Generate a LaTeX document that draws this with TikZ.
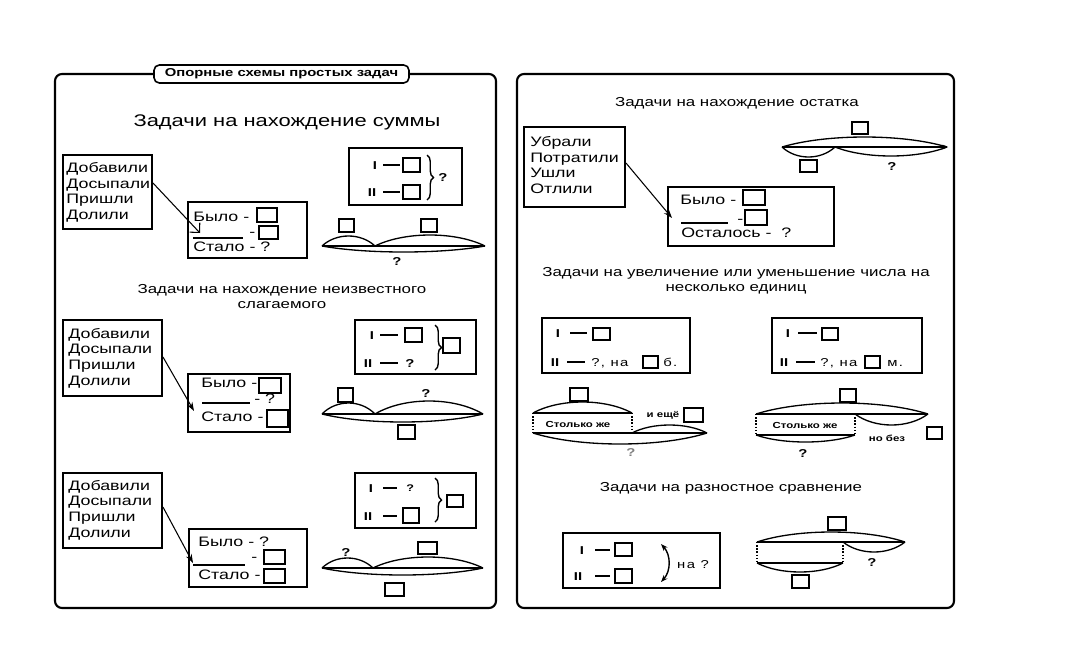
\documentclass[tikz,border=0pt]{standalone}
\usepackage{fontspec}
\setmainfont{Liberation Sans}[FakeStretch=1.3]
\usetikzlibrary{arrows.meta,decorations.pathreplacing,fit}
\newcommand\sqbox[5]{\node[sq, fit={(#2,#3) (#4,#5)}] (#1) {};}
\newcommand\lensarc[4]{\draw[arcl] (#1,#3) .. controls ({#1+(#2-#1)*0.27},{#3-1.333*(#4)}) and ({#2-(#2-#1)*0.27},{#3-1.333*(#4)}) .. (#2,#3);}
\newcommand\bodyf{\fontsize{7.8}{8.9}\selectfont}
\newcommand\headf{\fontsize{7.4}{8.5}\selectfont}
\newcommand\romf{\fontsize{6.5}{7}\selectfont\bfseries}
\newcommand\smallbf{\fontsize{5}{6}\selectfont\bfseries}
\begin{document}
\begin{tikzpicture}[x=0.02cm,y=-0.02cm,
 panel/.style={draw, line width=1.2pt, rounded corners=4pt, inner sep=0pt},
 bx/.style={draw, line width=1.1pt, inner sep=0pt},
 sq/.style={draw, line width=0.9pt, inner sep=0pt},
 arcl/.style={line width=0.75pt},
 ln/.style={line width=0.75pt},
 dsh/.style={line width=1pt},
 dots/.style={densely dotted, line width=0.8pt},
 lbl/.style={inner sep=0pt, anchor=west, text height=5.6pt, text depth=0pt, font=\bodyf},
 words/.style={inner sep=0pt, anchor=west, align=left, font=\bodyf},
 hd/.style={inner sep=0pt, align=center, font=\headf},
 rom/.style={inner sep=0pt, text height=4.7pt, text depth=0pt, font=\romf},
 spc/.style={inner sep=0pt, anchor=west, text height=4.7pt, text depth=0pt, font=\romf\mdseries\addfontfeature{LetterSpace=12}},
 sb/.style={inner sep=0pt, text height=3.6pt, text depth=0pt, font=\smallbf},
 arr/.style={-{Stealth[length=5pt,width=3.5pt]}, line width=0.6pt},
 brc/.style={decorate, decoration={brace, amplitude=0.13cm}, line width=0.8pt},
]
\path[fill=white] (0,0) rectangle (1081,646);
% panels
\node[panel, fit={(55,74) (496,608)}] (lp) {};
\node[panel, fit={(517,74) (954,608)}] (rp) {};
\node[draw, line width=0.9pt, rounded corners=3pt, fill=white, minimum width=5.1cm, minimum height=0.36cm, inner sep=0pt, font=\fontsize{6.5}{7}\selectfont\bfseries] (title) at (281.5,74) {Опорные схемы простых задач};

% ===== Left section 1
\node[hd, font=\fontsize{9.6}{11}\selectfont] (h1) at (287,122) {Задачи на нахождение суммы};
\node[bx, fit={(63,155) (152,229)}] (v1) {};
\node[words] (v1t) at (66,192.5) {Добавили\\Досыпали\\Пришли\\Долили};
\node[bx, fit={(188,202) (307,258)}] (b1) {};
\node[lbl] (b1a) at (193,217) {Было -};
\sqbox{s1a}{257}{208}{277}{222}
\coordinate (u1a) at (193,238); \coordinate (u1b) at (243,238);
\draw[ln] (u1a) -- (u1b);
\node[lbl] (b1m) at (249,232) {-};
\sqbox{s1b}{259}{226}{278}{239}
\node[lbl] (b1c) at (193,247) {Стало - ?};
\coordinate (a1) at (200,233);
\draw[arr, -{Straight Barb[length=4pt]}] (v1.east |- 0,183) -- (a1);
\node[bx, fit={(349,148) (462,205)}] (c1) {};
\node[rom] (c1i) at (375,165) {I};
\draw[dsh] (383,165) -- (400,165);
\sqbox{s1c}{403}{158}{420}{172}
\node[rom] (c1ii) at (372,192) {II};
\draw[dsh] (383,192) -- (400,192);
\sqbox{s1d}{403}{185}{420}{199}
\draw[brc] (427,155) -- (427,200);
\node[rom] (c1q) at (443,177) {?};
\sqbox{s1e}{339}{219}{354}{232}
\sqbox{s1f}{421}{219}{437}{232}
\draw[arcl] (322,246) -- (485,246);
\lensarc{322}{375}{246}{10}
\lensarc{375}{485}{246}{11}
\lensarc{322}{485}{246}{-6}
\node[rom] (d1q) at (397,261) {?};

% ===== Left section 2
\node[hd] (h2) at (282,296.5) {Задачи на нахождение неизвестного\\слагаемого};
\node[bx, fit={(63,320) (162,396)}] (v2) {};
\node[words] (v2t) at (68,358) {Добавили\\Досыпали\\Пришли\\Долили};
\node[bx, fit={(188,374) (290,432)}] (b2) {};
\node[lbl] (b2a) at (201,383) {Было -};
\sqbox{s2a}{259}{378}{281}{393}
\draw[ln] (202,403) -- (250,403);
\node[lbl] (b2m) at (254,399) {- ?};
\node[lbl] (b2c) at (201,417) {Стало -};
\sqbox{s2b}{267}{410}{288}{427}
\coordinate (a2) at (194,411);
\draw[arr] (v2.east |- 0,357) -- (a2);
\node[bx, fit={(355,320) (476,374)}] (c2) {};
\node[rom] (c2i) at (372,335) {I};
\draw[dsh] (380,335) -- (398,335);
\sqbox{s2c}{405}{328}{422}{342}
\node[rom] (c2ii) at (368,363) {II};
\draw[dsh] (380,363) -- (398,363);
\node[rom, anchor=west] (c2q) at (405,363) {?};
\draw[brc] (435,325) -- (435,370);
\sqbox{s2d}{443}{338}{460}{353}
\sqbox{s2e}{338}{388}{353}{402}
\node[rom] (d2q) at (426,393) {?};
\draw[arcl] (322,414) -- (483,414);
\lensarc{322}{375}{414}{11}
\lensarc{375}{483}{414}{13}
\lensarc{322}{483}{414}{-8}
\sqbox{s2f}{398}{425}{415}{439}

% ===== Left section 3
\node[bx, fit={(63,473) (162,548)}] (v3) {};
\node[words] (v3t) at (68,510) {Добавили\\Досыпали\\Пришли\\Долили};
\node[bx, fit={(189,529) (307,587)}] (b3) {};
\node[lbl] (b3a) at (198,542) {Было - ?};
\draw[ln] (193,565) -- (245,565);
\node[lbl] (b3m) at (251,557) {-};
\sqbox{s3a}{264}{550}{285}{564}
\node[lbl] (b3c) at (198,575) {Стало -};
\sqbox{s3b}{264}{569}{285}{583}
\coordinate (a3) at (193,563);
\draw[arr] (v3.east |- 0,507) -- (a3);
\node[bx, fit={(355,473) (476,528)}] (c3) {};
\node[rom] (c3i) at (371,488) {I};
\draw[dsh] (383,488) -- (397,488);
\node[rom, anchor=west, font=\fontsize{5.5}{6}\selectfont\bfseries] (c3q) at (406,487) {?};
\node[rom] (c3ii) at (368,516) {II};
\draw[dsh] (383,516) -- (397,516);
\sqbox{s3c}{403}{508}{419}{523}
\draw[brc] (435,478) -- (435,522);
\sqbox{s3d}{447}{495}{463}{507}
\node[rom] (d3q) at (346,552) {?};
\sqbox{s3e}{418}{542}{437}{554}
\draw[arcl] (322,568) -- (483,568);
\lensarc{322}{373}{568}{10}
\lensarc{373}{483}{568}{11}
\lensarc{322}{483}{568}{-7}
\sqbox{s3f}{385}{583}{404}{596}

% ===== Right section 1
\node[hd] (h4) at (737,103) {Задачи на нахождение остатка};
\node[bx, fit={(524,127) (625,207)}] (v4) {};
\node[words] (v4t) at (530,165) {Убрали\\Потратили\\Ушли\\Отлили};
\node[bx, fit={(668,187) (834,246)}] (b4) {};
\node[lbl] (b4a) at (680,200) {Было -};
\sqbox{s4a}{743}{190}{765}{205}
\draw[ln] (681,223) -- (728,223);
\node[lbl] (b4m) at (737,219) {-};
\sqbox{s4b}{745}{210}{767}{225}
\node[lbl] (b4c) at (681,233) {Осталось -~~?};
\coordinate (a4) at (672,218);
\draw[arr] (v4.east |- 0,163) -- (a4);
\sqbox{s4c}{852}{122}{868}{134}
\draw[arcl, -{Stealth[length=3pt,width=2.5pt]}] (782,147) -- (948,147);
\lensarc{782}{947}{147}{10}
\lensarc{782}{835}{147}{-10}
\lensarc{835}{947}{147}{-9}
\sqbox{s4d}{800}{160}{817}{172}
\node[rom] (d4q) at (892,166) {?};

% ===== Right section 2
\node[hd] (h5) at (736,280.5) {Задачи на увеличение или уменьшение числа на\\несколько единиц};
\node[bx, fit={(542,318) (690,373)}] (ca) {};
\node[rom] (cai) at (558,333) {I};
\draw[dsh] (570,333) -- (587,333);
\sqbox{sa1}{593}{328}{610}{340}
\node[rom] (caii) at (555,362) {II};
\draw[dsh] (567,362) -- (585,362);
\node[spc] (caq) at (591,362) {?, на};
\sqbox{sa2}{643}{356}{658}{368}
\node[spc] (cab) at (663,362) {б.};
\node[bx, fit={(772,318) (922,373)}] (cb) {};
\node[rom] (cbi) at (788,333) {I};
\draw[dsh] (798,333) -- (817,333);
\sqbox{sb1}{822}{328}{838}{340}
\node[rom] (cbii) at (784,362) {II};
\draw[dsh] (796,362) -- (815,362);
\node[spc] (cbq) at (820,362) {?, на};
\sqbox{sb2}{865}{356}{880}{368}
\node[spc] (cbm) at (887,362) {м.};
% diagram a
\sqbox{sa3}{570}{388}{588}{401}
\lensarc{533}{632}{413}{11}
\draw[arcl] (533,413) -- (632,413);
\draw[dots] (533,413) -- (533,433);
\draw[dots] (632,413) -- (632,433);
\draw[arcl] (533,433) -- (707,433);
\lensarc{632}{707}{433}{8}
\lensarc{533}{707}{433}{-11}
\node[sb] (sja) at (578,424) {Столько же};
\node[sb] (ie) at (663,414) {и ещё};
\sqbox{sa4}{684}{408}{703}{422}
\node[rom, text=gray] (daq) at (631,452) {?};
% diagram b
\sqbox{sb3}{840}{389}{856}{402}
\lensarc{756}{928}{414}{11}
\draw[arcl] (756,414) -- (928,414);
\draw[dots] (756,414) -- (756,435);
\draw[dots] (855,414) -- (855,435);
\draw[arcl] (756,435) -- (855,435);
\lensarc{756}{855}{435}{-7}
\lensarc{855}{928}{414}{-11}
\node[sb] (sjb) at (805,425) {Столько же};
\node[rom] (dbq) at (803,453) {?};
\node[sb] (nb) at (887,438) {но без};
\sqbox{sb4}{927}{427}{942}{439}

% ===== Right section 3
\node[hd] (h6) at (731,488) {Задачи на разностное сравнение};
\node[bx, fit={(563,533) (720,588)}] (cc) {};
\node[rom] (cci) at (582,550) {I};
\draw[dsh] (595,550) -- (610,550);
\sqbox{sc1}{615}{543}{632}{556}
\node[rom] (ccii) at (578,576) {II};
\draw[dsh] (595,576) -- (610,576);
\sqbox{sc2}{615}{569}{632}{583}
\coordinate (ct) at (661,544); \coordinate (cbt) at (661,582);
\draw[{Stealth[length=4pt,width=3pt]}-{Stealth[length=4pt,width=3pt]}, line width=0.8pt] (ct) .. controls (671,555) and (671,571) .. (cbt);
\node[spc, anchor=center] (naq) at (693,564) {на ?};
\sqbox{sc3}{828}{517}{846}{530}
\lensarc{757}{905}{542}{10}
\draw[arcl] (757,542) -- (905,542);
\draw[dots] (757,542) -- (757,563);
\draw[dots] (843,542) -- (843,563);
\draw[arcl] (757,563) -- (843,563);
\lensarc{757}{843}{563}{-9}
\lensarc{843}{905}{542}{-10}
\sqbox{sc4}{792}{575}{809}{588}
\node[rom] (dcq) at (872,562) {?};
\end{tikzpicture}
\end{document}
